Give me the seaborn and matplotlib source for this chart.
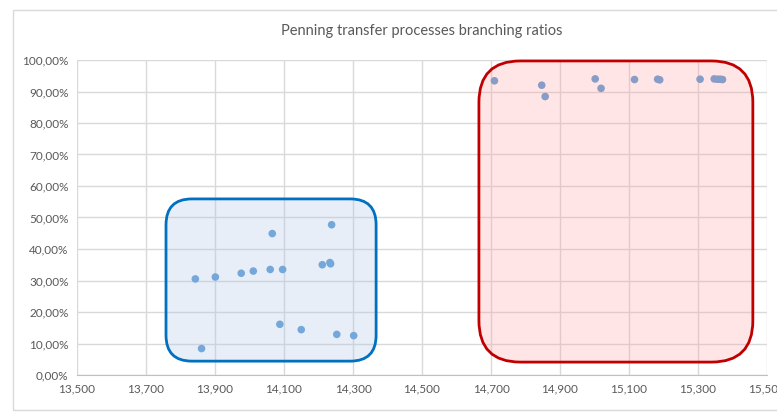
import matplotlib
matplotlib.use("Agg")
import matplotlib.pyplot as plt
import seaborn as sns
import pandas as pd
from matplotlib.patches import FancyBboxPatch, Rectangle
from matplotlib.ticker import FuncFormatter, MultipleLocator

# energies (eV) and branching ratios
energy_low = [13.843, 13.861, 13.901, 13.976, 14.011, 14.060, 14.066, 14.096,
              14.088, 14.150, 14.211, 14.233, 14.235, 14.238, 14.253, 14.302]
ratio_low = [0.305, 0.084, 0.311, 0.323, 0.330, 0.335, 0.449, 0.335,
             0.161, 0.144, 0.350, 0.357, 0.353, 0.477, 0.129, 0.125]
energy_high = [14.710, 14.847, 14.857, 15.002, 15.019, 15.116, 15.183, 15.189,
               15.306, 15.347, 15.356, 15.364, 15.371]
ratio_high = [0.934, 0.920, 0.884, 0.940, 0.910, 0.938, 0.939, 0.937,
              0.939, 0.940, 0.939, 0.939, 0.938]
x_ticks = [13.5, 13.7, 13.9, 14.1, 14.3, 14.5, 14.7, 14.9, 15.1, 15.3, 15.5]

df = pd.DataFrame({
    "energy": energy_low + energy_high,
    "ratio": ratio_low + ratio_high,
})

sns.set_style("white")
plt.rcParams["font.family"] = ["Lato", "DejaVu Sans"]
grey = "#595959"

W, H = 777, 418
fig = plt.figure(figsize=(W / 100, H / 100), dpi=100)
ax = fig.add_axes([77 / W, (H - 375) / H, 690 / W, 315 / H])

# chart frame
fig.patches.append(Rectangle((13 / W, 8 / H), 1.2, 400 / H, transform=fig.transFigure,
                             fill=False, edgecolor="#d9d9d9", lw=1))

sns.scatterplot(data=df, x="energy", y="ratio", ax=ax, color="#5b9bd5",
                s=30, edgecolor="none", zorder=3)

ax.set_xlim(13.5, 15.5)
ax.set_ylim(0, 1.0)
ax.set_xticks(x_ticks)
ax.yaxis.set_major_locator(MultipleLocator(0.1))
ax.xaxis.set_major_formatter(FuncFormatter(lambda v, p: f"{v:.3f}".replace(".", ",")))
ax.yaxis.set_major_formatter(FuncFormatter(lambda v, p: f"{v * 100:.2f}%".replace(".", ",")))
ax.grid(True, color="#d9d9d9", lw=1)
ax.set_axisbelow(True)
for s in ["top", "right", "left"]:
    ax.spines[s].set_visible(False)
ax.spines["bottom"].set_color("#bfbfbf")
ax.tick_params(length=0, colors=grey, labelsize=8.5, pad=6)
ax.set_xlabel("")
ax.set_ylabel("")
ax.set_title("Penning transfer processes branching ratios", color=grey, fontsize=10.5, pad=18)

# highlight boxes (x scale 345 px/eV, y scale 315 px/unit)
asp = 345 / 315
blue = FancyBboxPatch((13.758, 0.044), 14.367 - 13.758, 0.559 - 0.044,
                      boxstyle="round,pad=0,rounding_size=0.075", mutation_aspect=asp,
                      facecolor="#b4c7e7", alpha=0.3, edgecolor="none", zorder=4)
blue_edge = FancyBboxPatch((13.758, 0.044), 14.367 - 13.758, 0.559 - 0.044,
                           boxstyle="round,pad=0,rounding_size=0.075", mutation_aspect=asp,
                           fill=False, edgecolor="#0070c0", lw=2, zorder=5)
red = FancyBboxPatch((14.665, 0.041), 15.459 - 14.665, 0.997 - 0.041,
                     boxstyle="round,pad=0,rounding_size=0.12", mutation_aspect=asp,
                     facecolor="#ff9f9f", alpha=0.27, edgecolor="none", zorder=4, clip_on=False)
red_edge = FancyBboxPatch((14.665, 0.041), 15.459 - 14.665, 0.997 - 0.041,
                          boxstyle="round,pad=0,rounding_size=0.12", mutation_aspect=asp,
                          fill=False, edgecolor="#c00000", lw=2, zorder=5, clip_on=False)
for p in [blue, blue_edge, red, red_edge]:
    ax.add_patch(p)

fig.savefig("out.png", dpi=100)
